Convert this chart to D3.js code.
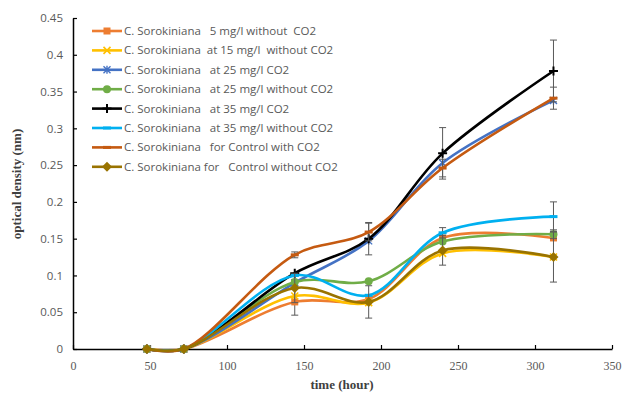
<!DOCTYPE html>
<html>
<head>
<meta charset="utf-8">
<script src="https://cdn.jsdelivr.net/npm/d3@7"></script>
<style>
  body { margin: 0; background: #fff; }
  svg { display: block; }
</style>
</head>
<body>
<div class="svgcontainer"></div>
<script>
// data
const hours = [48, 72, 144, 192, 240, 312];
const xTicks = [0, 50, 100, 150, 200, 250, 300, 350];
const yTicks = [0, 0.05, 0.1, 0.15, 0.2, 0.25, 0.3, 0.35, 0.4, 0.45];

const names = [
  "C. Sorokiniana   5 mg/l without  CO2",
  "C. Sorokiniana  at 15 mg/l  without CO2",
  "C. Sorokiniana   at 25 mg/l CO2",
  "C. Sorokiniana   at 25 mg/l without CO2",
  "C. Sorokiniana   at 35 mg/l CO2",
  "C. Sorokiniana   at 35 mg/l without CO2",
  "C. Sorokiniana   for Control with CO2",
  "C. Sorokiniana for   Control without CO2"
];

const s5 = [0, 0, 0.064, 0.068, 0.151, 0.151];
const s15 = [0, 0, 0.072, 0.063, 0.130, 0.125];
const s25co2 = [0, 0, 0.090, 0.147, 0.253, 0.338];
const s25 = [0, 0, 0.091, 0.092, 0.146, 0.156];
const s35co2 = [0, 0, 0.103, 0.150, 0.266, 0.378];
const s35 = [0, 0, 0.100, 0.073, 0.158, 0.180];
const ctrlCo2 = [0, 0, 0.128, 0.159, 0.246, 0.341];
const ctrlNo = [0, 0, 0.083, 0.064, 0.134, 0.125];

// error bar half-widths (null = none drawn)
const e5 = [null, null, 0.018, null, null, null];
const e15 = [null, null, null, null, null, null];
const e25co2 = [null, null, null, null, null, null];
const e25 = [null, null, null, null, null, 0.006];
const e35co2 = [null, null, null, 0.022, 0.035, 0.042];
const e35 = [null, null, null, null, 0.007, 0.02];
const eCtrlCo2 = [null, null, 0.004, 0.012, 0.012, 0.015];
const eCtrlNo = [null, null, 0.02, 0.022, 0.02, 0.034];

const colors = ["#ED7D31", "#FFC000", "#4472C4", "#70AD47", "#000000", "#00B0F0", "#C55A11", "#997300"];
const markers = ["square", "x", "star", "circle", "plus", "dash", "dash", "diamond"];

const values = [s5, s15, s25co2, s25, s35co2, s35, ctrlCo2, ctrlNo];
const errors = [e5, e15, e25co2, e25, e35co2, e35, eCtrlCo2, eCtrlNo];

const W = 624, H = 395;
const svg = d3.select(".svgcontainer").append("svg")
  .attr("width", W).attr("height", H);

const x = d3.scaleLinear().domain([0, 350]).range([73, 612]);
const y = d3.scaleLinear().domain([0, 0.45]).range([349, 18]);

// axes
const xAxis = svg.append("g").attr("transform", `translate(0,${y(0)})`)
  .call(d3.axisBottom(x).tickValues(xTicks).tickSizeInner(-4).tickSizeOuter(0).tickPadding(12));
xAxis.select(".domain").attr("stroke", "#000").attr("stroke-width", 1.5);
xAxis.selectAll(".tick line").attr("stroke", "#000").attr("stroke-width", 1.2);
xAxis.selectAll("text").attr("fill", "#595959")
  .style("font-family", "'Liberation Serif', serif").style("font-size", "12px");

const yAxis = svg.append("g").attr("transform", `translate(${x(0)},0)`)
  .call(d3.axisLeft(y).tickValues(yTicks).tickFormat(d => d3.format("")(+d.toFixed(2)))
    .tickSizeInner(-4).tickSizeOuter(0).tickPadding(10));
yAxis.select(".domain").attr("stroke", "#000").attr("stroke-width", 1.5);
yAxis.selectAll(".tick line").attr("stroke", "#000").attr("stroke-width", 1.2);
yAxis.selectAll("text").attr("fill", "#595959")
  .style("font-family", "'Open Sans', sans-serif").style("font-size", "11.5px");

// axis titles
svg.append("text")
  .attr("x", 342).attr("y", 389)
  .attr("text-anchor", "middle")
  .style("font-family", "'Liberation Serif', serif").style("font-weight", "bold").style("font-size", "13px")
  .attr("fill", "#404040")
  .text("time (hour)");

svg.append("text")
  .attr("transform", "translate(21,184) rotate(-90)")
  .attr("text-anchor", "middle")
  .style("font-family", "'Liberation Serif', serif").style("font-weight", "bold").style("font-size", "13px")
  .attr("fill", "#404040")
  .text("optical density (nm)");

function drawMarker(g, type, color, cx, cy) {
  if (type === "square") {
    g.append("rect").attr("x", cx - 3.5).attr("y", cy - 3.5).attr("width", 7).attr("height", 7).attr("fill", color);
  } else if (type === "circle") {
    g.append("circle").attr("cx", cx).attr("cy", cy).attr("r", 4).attr("fill", color);
  } else if (type === "diamond") {
    g.append("path").attr("d", `M${cx},${cy - 5}L${cx + 5},${cy}L${cx},${cy + 5}L${cx - 5},${cy}Z`).attr("fill", color);
  } else if (type === "x") {
    g.append("path").attr("d", `M${cx - 3.5},${cy - 3.5}L${cx + 3.5},${cy + 3.5}M${cx - 3.5},${cy + 3.5}L${cx + 3.5},${cy - 3.5}`)
      .attr("stroke", color).attr("stroke-width", 1.6);
  } else if (type === "star") {
    g.append("path").attr("d", `M${cx - 3.5},${cy - 3.5}L${cx + 3.5},${cy + 3.5}M${cx - 3.5},${cy + 3.5}L${cx + 3.5},${cy - 3.5}M${cx},${cy - 4}L${cx},${cy + 4}`)
      .attr("stroke", color).attr("stroke-width", 1.4);
  } else if (type === "plus") {
    g.append("path").attr("d", `M${cx - 4.5},${cy}L${cx + 4.5},${cy}M${cx},${cy - 4.5}L${cx},${cy + 4.5}`)
      .attr("stroke", color).attr("stroke-width", 2);
  } else if (type === "dash") {
    g.append("rect").attr("x", cx - 4).attr("y", cy - 1.5).attr("width", 8).attr("height", 3).attr("fill", color);
  }
}

const line = d3.line()
  .x(d => x(d[0]))
  .y(d => y(d[1]))
  .curve(d3.curveCatmullRom.alpha(0.5));

const plot = svg.append("g");

values.forEach((vals, i) => {
  const pts = hours.map((h, j) => [h, vals[j]]);
  const g = plot.append("g");
  g.append("path")
    .attr("d", line(pts))
    .attr("fill", "none")
    .attr("stroke", colors[i])
    .attr("stroke-width", 2.6)
    .attr("stroke-linejoin", "round");

  // error bars
  hours.forEach((h, j) => {
    const e = errors[i][j];
    if (e == null) return;
    const cx = x(h), y1 = y(vals[j] + e), y2 = y(vals[j] - e);
    g.append("line").attr("x1", cx).attr("x2", cx).attr("y1", y1).attr("y2", y2)
      .attr("stroke", "#595959").attr("stroke-width", 1);
    [y1, y2].forEach(yy => {
      g.append("line").attr("x1", cx - 3.5).attr("x2", cx + 3.5).attr("y1", yy).attr("y2", yy)
        .attr("stroke", "#595959").attr("stroke-width", 1);
    });
  });

  pts.forEach(p => drawMarker(g, markers[i], colors[i], x(p[0]), y(p[1])));
});

// legend
const legend = svg.append("g");
names.forEach((name, i) => {
  const ly = 31 + i * 19.4;
  legend.append("line")
    .attr("x1", 92).attr("x2", 122).attr("y1", ly).attr("y2", ly)
    .attr("stroke", colors[i]).attr("stroke-width", 2.6);
  drawMarker(legend, markers[i], colors[i], 107, ly);
  legend.append("text")
    .attr("x", 124).attr("y", ly + 4)
    .attr("fill", "#595959")
    .style("font-family", "'Open Sans', sans-serif").style("font-size", "11.5px")
    .style("white-space", "pre")
    .attr("xml:space", "preserve")
    .text(name);
});
</script>
</body>
</html>
